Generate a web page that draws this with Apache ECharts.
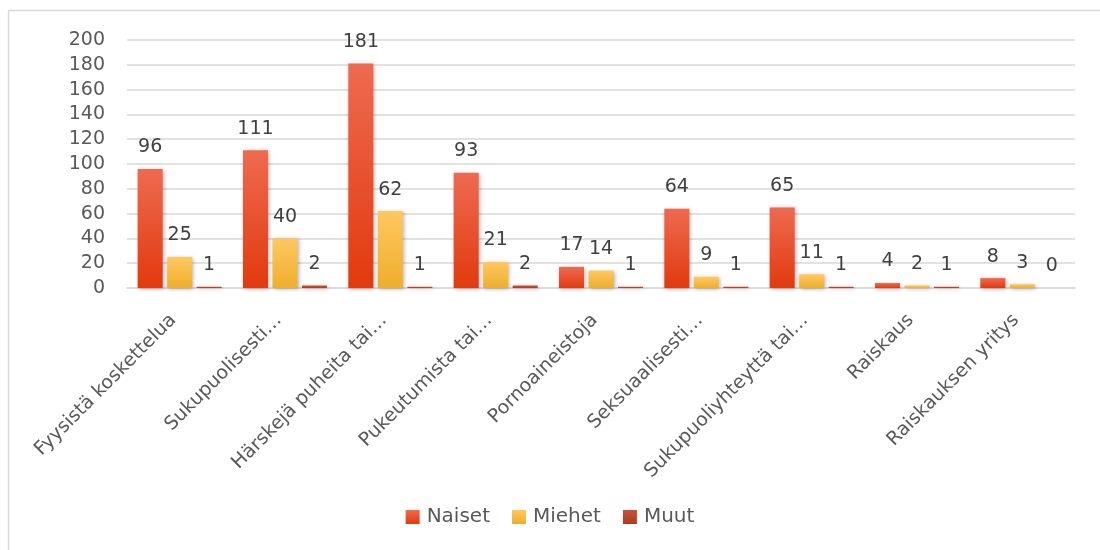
<!DOCTYPE html>
<html>
<head>
<meta charset="utf-8">
<script src="https://cdn.jsdelivr.net/npm/echarts@6/dist/echarts.min.js"></script>
<style>
  html, body { margin: 0; padding: 0; background: #fff; }
  #chart { width: 1100px; height: 550px; }
</style>
</head>
<body>
<div id="chart"></div>
<script>
const categories = [
  'Fyysistä koskettelua',
  'Sukupuolisesti…',
  'Härskejä puheita tai…',
  'Pukeutumista tai…',
  'Pornoaineistoja',
  'Seksuaalisesti…',
  'Sukupuoliyhteyttä tai…',
  'Raiskaus',
  'Raiskauksen yritys'
];
const naiset = [96, 111, 181, 93, 17, 64, 65, 4, 8];
const miehet = [25, 40, 62, 21, 14, 9, 11, 2, 3];
const muut = [1, 2, 1, 2, 1, 1, 1, 1, 0];

const chart = echarts.init(document.getElementById('chart'));

// pylväiden liukuväri ylhäältä alas
function grad(top, bottom) {
  return new echarts.graphic.LinearGradient(0, 0, 0, 1, [
    { offset: 0, color: top },
    { offset: 1, color: bottom }
  ]);
}

const labelStyle = {
  show: true,
  position: 'top',
  distance: 12,
  fontSize: 19,
  color: '#404040'
};

function barSeries(name, data, top, bottom) {
  return {
    name: name,
    type: 'bar',
    data: data,
    barWidth: 25,
    barGap: '18%',
    itemStyle: {
      color: grad(top, bottom),
      shadowColor: 'rgba(0,0,0,0.3)',
      shadowBlur: 4,
      shadowOffsetX: 1,
      shadowOffsetY: 1
    },
    label: labelStyle
  };
}

const option = {
  animation: false,
  textStyle: { fontFamily: 'DejaVu Sans, sans-serif' },
  graphic: [{
    type: 'rect',
    shape: { x: 8.5, y: 10.5, width: 1200, height: 600 },
    style: { fill: 'none', stroke: '#d9d9d9', lineWidth: 1.5 },
    silent: true
  }],
  grid: { left: 127, right: 25, top: 40, height: 248 },
  legend: {
    bottom: 18,
    itemWidth: 14,
    itemHeight: 14,
    itemGap: 22,
    icon: 'rect',
    textStyle: { fontSize: 20, color: '#595959', padding: [0, 0, 0, 2] },
    data: [
      { name: 'Naiset', itemStyle: { color: grad('#EE6A50', '#E23A0E') } },
      { name: 'Miehet', itemStyle: { color: grad('#FFC860', '#EEAE2C') } },
      { name: 'Muut', itemStyle: { color: grad('#C2553A', '#B23A1C') } }
    ]
  },
  xAxis: {
    type: 'category',
    data: categories,
    axisTick: { show: false },
    axisLine: { lineStyle: { color: '#d9d9d9', width: 1.5 } },
    axisLabel: {
      rotate: 45,
      interval: 0,
      fontSize: 19,
      color: '#595959',
      margin: 23,
      padding: [0, 9, 0, 0]
    }
  },
  yAxis: {
    type: 'value',
    min: 0,
    max: 200,
    interval: 20,
    axisLine: { show: false },
    axisTick: { show: false },
    splitLine: { lineStyle: { color: '#d9d9d9', width: 1.5 } },
    axisLabel: { fontSize: 19, color: '#595959', margin: 22 }
  },
  series: [
    barSeries('Naiset', naiset, '#EE6A50', '#E23A0E'),
    barSeries('Miehet', miehet, '#FFC860', '#EEAE2C'),
    barSeries('Muut', muut, '#C2553A', '#B23A1C')
  ]
};

chart.setOption(option);
</script>
</body>
</html>
